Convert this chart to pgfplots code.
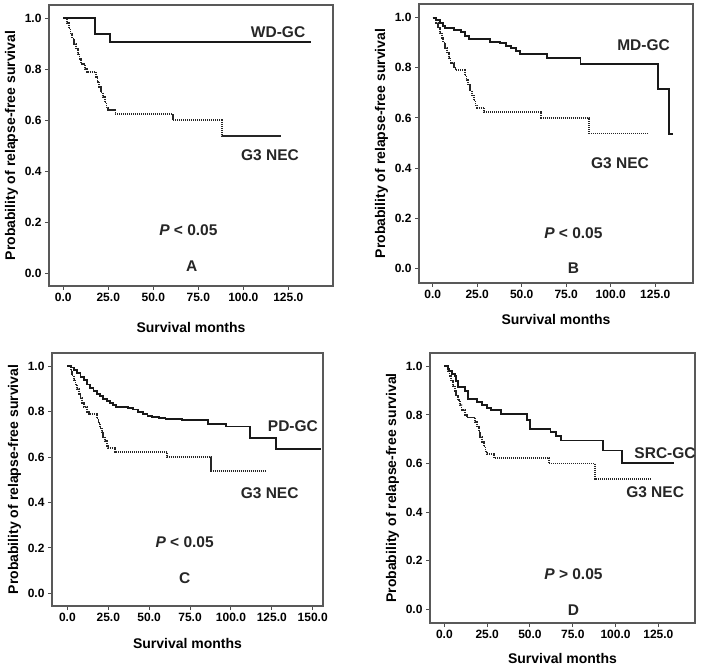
\documentclass[border=0pt]{standalone}
\usepackage{fontspec}
\setmainfont{Liberation Sans}
\usepackage{pgfplots}
\usepackage{pgfplotstable}
\pgfplotsset{compat=1.18}

% G3 NEC curve (same in all four panels)
\pgfplotstableread{
x y
0 1
2 0.98
3 0.96
4 0.94
5 0.92
6 0.90
7 0.88
8 0.86
9 0.84
10 0.82
12 0.80
13 0.79
18 0.77
19 0.75
20 0.73
21 0.71
22 0.69
23 0.67
24 0.65
25 0.64
29 0.623
61 0.60
88 0.538
121 0.538
}\necdata

\pgfplotstableread{
x y
0 1
17.5 0.938
26 0.906
137.5 0.906
}\wddata

\pgfplotstableread{
x y
0 1
2 0.99
4 0.978
6 0.968
7 0.958
12 0.951
16 0.944
18 0.927
20.5 0.914
32 0.904
38 0.898
41 0.887
44 0.878
47 0.869
49 0.855
64 0.838
83 0.817
126.5 0.714
132.5 0.536
135 0.536
}\mddata

\pgfplotstableread{
x y
0 1
2 0.995
4 0.985
6 0.97
8 0.955
10 0.94
12 0.92
14 0.905
16 0.89
18 0.878
20 0.868
22 0.858
24 0.848
26 0.838
28 0.828
30 0.82
37 0.816
40 0.81
43 0.80
46 0.79
49 0.783
52 0.778
56 0.772
60 0.768
70 0.764
86 0.748
97 0.735
111.5 0.685
127.5 0.635
155 0.635
}\pddata

\pgfplotstableread{
x y
0 1
2 0.99
3 0.98
4.5 0.97
6 0.96
7 0.94
8 0.915
12 0.90
14 0.867
19 0.853
22 0.84
25 0.83
27 0.819
33 0.805
48 0.778
50 0.744
62 0.73
65 0.713
68 0.695
92.5 0.654
103.8 0.602
134 0.602
}\srcdata

\newcommand{\tl}[1]{\textbf{\fontsize{12}{13}\selectfont#1}}
\tikzset{ann/.style={font=\bfseries\fontsize{15.5}{17}\selectfont, text=black!85}}
\pgfplotsset{
  km/.style={
    scale only axis,
    axis line style={draw=black!65, line width=1.6pt},
    tick align=outside,
    xtick pos=left, ytick pos=left,
    major tick length=4pt,
    tick style={draw=black!70, line width=1pt},
    ytick={0,0.2,0.4,0.6,0.8,1},
    /pgf/number format/assume math mode=true,
    xticklabel={\tl{\pgfmathprintnumber[fixed,fixed zerofill,precision=1]{\tick}}},
    yticklabel={\tl{\pgfmathprintnumber[fixed,fixed zerofill,precision=1]{\tick}}},
    label style={font=\bfseries\fontsize{14}{16}\selectfont},
    xlabel={Survival months},
    ylabel={Probability of relapse-free survival},
    clip=false,
  },
  nec/.style={const plot, draw=black!85, line width=1.8pt, dash pattern=on 1.2pt off 0.8pt},
  gc/.style={const plot, draw=black!90, line width=1.9pt},
}

\begin{document}
\begin{tikzpicture}
\useasboundingbox (0,0) rectangle (701pt,667pt);

% A
\begin{axis}[km, at={(49pt,381pt)}, anchor=south west,
  width=284pt, height=281pt,
  xmin=-7.9, xmax=149.8, ymin=-0.05, ymax=1.052,
  xtick={0,25,50,75,100,125},
  xlabel style={yshift=-13pt}]
  \addplot[nec] table {\necdata};
  \addplot[gc] table {\wddata};
  \node[ann] at (axis cs:119.3,0.946) {WD-GC};
  \node[ann] at (axis cs:114.8,0.464) {G3 NEC};
  \node[ann] at (axis cs:69.5,0.17) {\textit{P} < 0.05};
  \node[ann] at (axis cs:71.3,0.026) {A};
\end{axis}

% B
\begin{axis}[km, at={(419pt,384pt)}, anchor=south west,
  width=274pt, height=279pt,
  xmin=-7.7, xmax=146.2, ymin=-0.059, ymax=1.055,
  xtick={0,25,50,75,100,125},
  xlabel style={yshift=-8pt}]
  \addplot[nec] table {\necdata};
  \addplot[gc] table {\mddata};
  \node[ann] at (axis cs:118.4,0.891) {MD-GC};
  \node[ann] at (axis cs:105.2,0.419) {G3 NEC};
  \node[ann] at (axis cs:79,0.14) {\textit{P} < 0.05};
  \node[ann] at (axis cs:79,0.0) {B};
\end{axis}

% C
\begin{axis}[km, at={(52pt,61pt)}, anchor=south west,
  width=271pt, height=253pt,
  xmin=-9.4, xmax=156.3, ymin=-0.056, ymax=1.059,
  xtick={0,25,50,75,100,125,150},
  xlabel style={yshift=-9pt}]
  \addplot[nec] table {\necdata};
  \addplot[gc] table {\pddata};
  \node[ann] at (axis cs:137.9,0.735) {PD-GC};
  \node[ann] at (axis cs:123.7,0.441) {G3 NEC};
  \node[ann] at (axis cs:71.7,0.224) {\textit{P} < 0.05};
  \node[ann] at (axis cs:71.7,0.067) {C};
\end{axis}

% D
\begin{axis}[km, at={(430pt,44pt)}, anchor=south west,
  width=265pt, height=270pt,
  xmin=-8.4, xmax=146.4, ymin=-0.056, ymax=1.055,
  xtick={0,25,50,75,100,125},
  xlabel style={yshift=-7pt}]
  \addplot[nec] table {\necdata};
  \addplot[gc] table {\srcdata};
  \node[ann] at (axis cs:128.9,0.641) {SRC-GC};
  \node[ann] at (axis cs:123.1,0.483) {G3 NEC};
  \node[ann] at (axis cs:75.4,0.147) {\textit{P} > 0.05};
  \node[ann] at (axis cs:75.4,-0.004) {D};
\end{axis}
\end{tikzpicture}
\end{document}
